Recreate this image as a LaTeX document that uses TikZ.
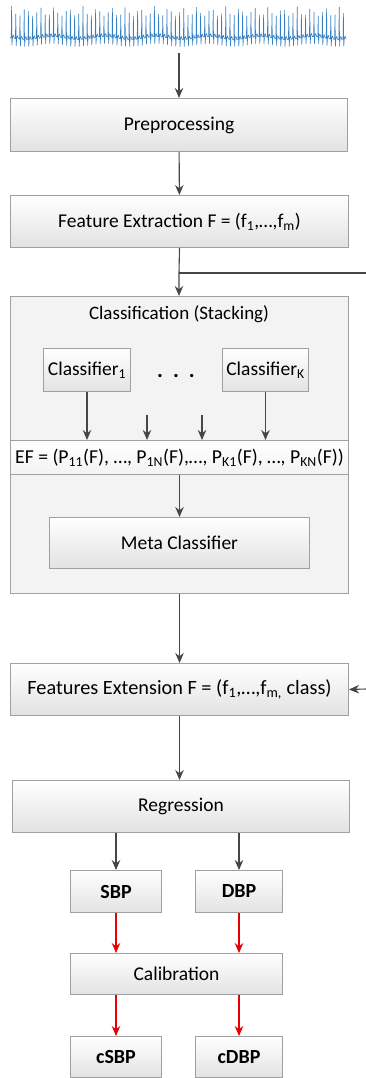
\documentclass[tikz,border=0pt]{standalone}
\usepackage{fontspec}
\setmainfont{Carlito}
\usetikzlibrary{arrows.meta}
\usetikzlibrary{calc}
\usetikzlibrary{positioning}
\definecolor{boxLine}{RGB}{160, 160, 160}
\definecolor{boxShade}{RGB}{226, 226, 226}
\definecolor{stackFill}{RGB}{243, 243, 243}
\definecolor{arrowGray}{RGB}{70, 70, 70}
\definecolor{arrowRed}{RGB}{230, 0, 0}
\definecolor{ecgBlue}{RGB}{52, 128, 195}
\newcommand{\lowidx}[1]{\textsubscript{#1}}

\tikzset{
  procbox/.style={draw=boxLine, line width=1pt, top color=white,
                  bottom color=boxShade, inner sep=0pt, anchor=north west,
                  font=\fontsize{19.5}{22}\selectfont},
  widebox/.style={procbox, font=\fontsize{20.3}{22}\selectfont},
  bpbox/.style={procbox, font=\fontsize{20}{22}\selectfont\bfseries},
  flow/.style={-{Stealth[length=10pt, width=8.5pt]}, draw=arrowGray,
               line width=1.1pt},
  redflow/.style={flow, draw=arrowRed},
  ecg/.style={draw=ecgBlue, line width=0.6pt, line join=round}
}

\begin{document}
\begin{tikzpicture}[x=1pt, y=-1pt]
      \useasboundingbox (0,0) rectangle (366,1078);

      % input signal
      \draw [ecg] (10,38) foreach \i [evaluate=\i as \bx using 10+\i*4.2,
            evaluate=\i as \h using 6+10*abs(sin(\i*53)),
            evaluate=\i as \b using 38+1.5*sin(\i*29)] in {0,...,79}
            { -- (\bx+1.2,\b) -- (\bx+1.6,\h) -- (\bx+2,\b+7)
              -- (\bx+2.5,\b-1) -- (\bx+3.3,\b-3) -- (\bx+4.2,\b) };
      \coordinate (signal) at (179,53);

      \node [procbox, minimum width=337pt, minimum height=53pt]
            (prepro) at (10,98) {Preprocessing};
      \node [procbox, minimum width=338pt, minimum height=52pt]
            (features) at (10,195)
            {Feature Extraction F = (f\lowidx{1},…,f\lowidx{m})};

      % stacking block
      \node [draw=boxLine, line width=1pt, fill=stackFill, anchor=north west,
             minimum width=338pt, minimum height=297pt, inner sep=0pt]
            (stacking) at (10,296) {};
      \node [font=\fontsize{19}{22}\selectfont] (title) at (179,314)
            {Classification (Stacking)};
      \node [procbox, minimum width=87pt, minimum height=43pt]
            (clfA) at (43,348) {Classifier\lowidx{1}};
      \node [procbox, minimum width=86pt, minimum height=43pt]
            (clfK) at (222,348) {Classifier\lowidx{K}};
      \node [font=\fontsize{22}{22}\selectfont\bfseries] (dots) at (176,376)
            {.\hspace{10pt}.\hspace{10pt}.};
      \node [procbox, minimum width=338pt, minimum height=34pt, top color=white,
             bottom color=stackFill, font=\fontsize{19.7}{22}\selectfont]
            (ef) at (10,440)
            {EF = (P\lowidx{11}(F), …, P\lowidx{1N}(F),…, P\lowidx{K1}(F), …,
             P\lowidx{KN}(F))};
      \coordinate (pB) at (147,415);
      \coordinate (pC) at (202,415);
      \node [procbox, minimum width=260pt, minimum height=51pt]
            (meta) at (49,517) {Meta Classifier};

      \node [widebox, minimum width=338pt, minimum height=52pt]
            (extension) at (10,663)
            {Features Extension F = (f\lowidx{1},…,f\lowidx{m,} class)};
      \node [procbox, minimum width=337pt, minimum height=52pt]
            (regression) at (12,780) {Regression};

      \node [bpbox, minimum width=91pt, minimum height=42pt]
            (sbp) at (70,870) {SBP};
      \node [bpbox, minimum width=87pt, minimum height=42pt]
            (dbp) at (195,870) {DBP};
      \node [procbox, minimum width=212pt, minimum height=41pt]
            (calib) at (70,953) {Calibration};
      \node [bpbox, minimum width=91pt, minimum height=41pt]
            (csbp) at (70,1036) {cSBP};
      \node [bpbox, minimum width=87pt, minimum height=41pt]
            (cdbp) at (195,1036) {cDBP};

      % side branch
      \coordinate (branch) at (179,273);
      \coordinate (sideOut) at (366,273);
      \coordinate (sideIn) at (366,689);

      \draw [flow] (signal) -- (prepro.south |- signal) -- (prepro.north);
      \draw [flow] (prepro) -- (features);
      \draw [flow] (features.south) -- (branch) -- (branch |- stacking.north);
      \draw [draw=arrowGray, line width=1.1pt] (branch) -- (sideOut);
      \draw [flow] (sideIn) -- (extension.east);

      \draw [flow] (clfA.south) -- (clfA.south |- ef.north);
      \draw [flow] (pB) -- (pB |- ef.north);
      \draw [flow] (pC) -- (pC |- ef.north);
      \draw [flow] (clfK.south) -- (clfK.south |- ef.north);
      \draw [flow] (ef.south -| meta.north) -- (meta.north);

      \draw [flow] (stacking.south -| features.south) -- (extension.north -| features.south);
      \draw [flow] (extension.south -| features.south) -- (regression.north -| features.south);
      \draw [flow] (regression.south -| sbp.north) -- (sbp.north);
      \draw [flow] (regression.south -| dbp.north) -- (dbp.north);

      \draw [redflow] (sbp.south) -- (sbp.south |- calib.north);
      \draw [redflow] (dbp.south) -- (dbp.south |- calib.north);
      \draw [redflow] (calib.south -| csbp.north) -- (csbp.north);
      \draw [redflow] (calib.south -| cdbp.north) -- (cdbp.north);
\end{tikzpicture}
\end{document}
